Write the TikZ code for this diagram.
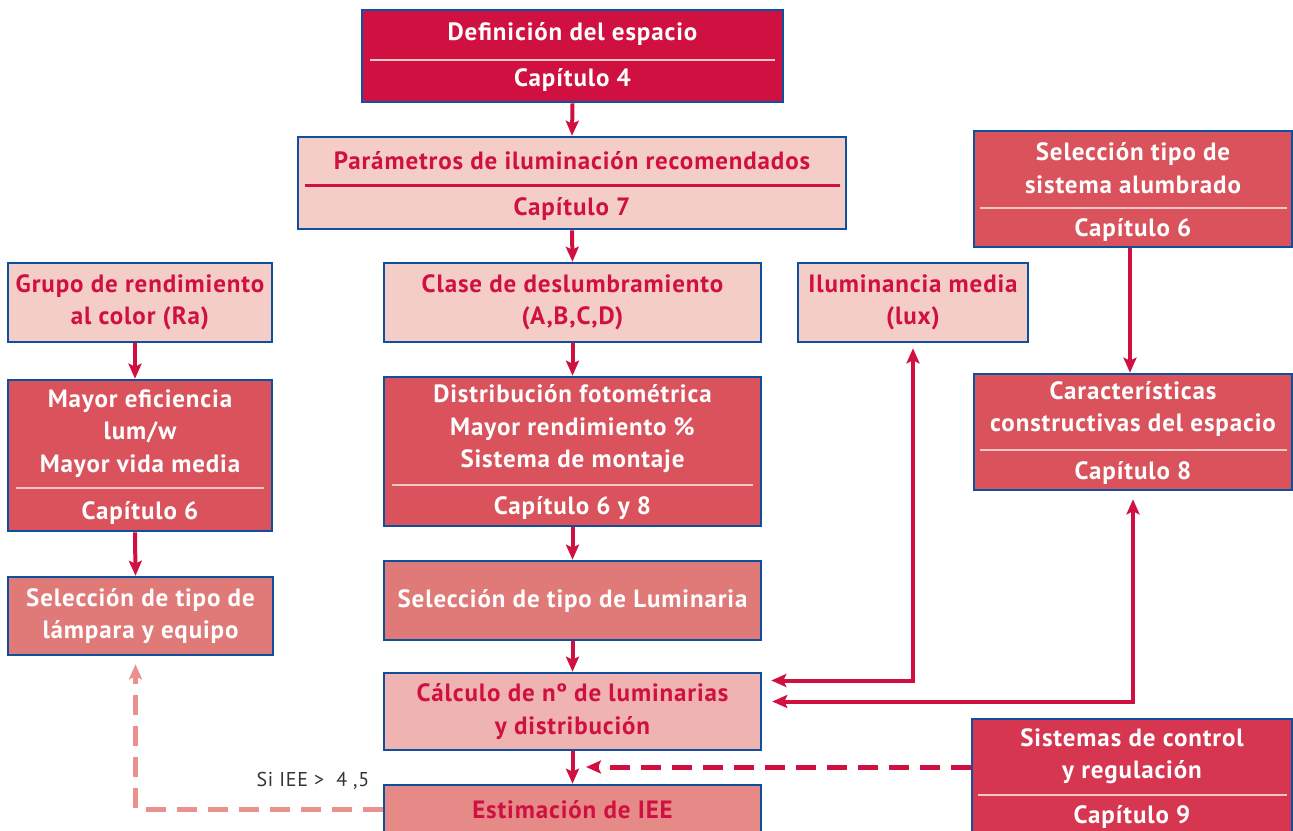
\documentclass[tikz,border=0pt]{standalone}
\usepackage{fontspec}
\setmainfont{PT Sans}[LetterSpace=3.5]
\usetikzlibrary{arrows.meta,positioning}
\definecolor{ieblue}{RGB}{14,80,158}
\definecolor{iecrimson}{RGB}{208,16,64}
\definecolor{iepink}{RGB}{245,205,199}
\definecolor{iered}{RGB}{217,82,92}
\definecolor{iesalmon}{RGB}{224,122,120}
\definecolor{iecalc}{RGB}{239,180,177}
\definecolor{ieestim}{RGB}{230,138,135}
\definecolor{iectrl}{RGB}{214,54,79}
\definecolor{iedash}{RGB}{232,145,141}
\definecolor{iesep}{RGB}{246,200,196}

\begin{document}
\begin{tikzpicture}[x=1pt,y=-1pt,
    ietip/.tip={Stealth[length=15pt,width=13pt,inset=3pt]},
    box/.style={draw=ieblue, line width=2.6pt, inner sep=0pt, align=center,
                font=\fontsize{25}{32.5}\selectfont\bfseries},
    lightbox/.style={box, fill=iepink, text=iecrimson},
    txt/.style={inner sep=0pt, align=center,
                font=\fontsize{25}{32.5}\selectfont\bfseries},
    wtxt/.style={txt, text=white},
    rtxt/.style={txt, text=iecrimson},
    wsep/.style={draw=iesep, line width=2pt},
    link/.style={draw=iecrimson, line width=4pt},
    flow/.style={link, -ietip},
    ctrl/.style={link, line width=5pt, dash pattern=on 20pt off 11pt, -ietip},
    back/.style={draw=iedash, line width=5pt, dash pattern=on 20pt off 11pt, -ietip}
  ]
    \useasboundingbox (0,0) rectangle (1293,830);

    % centre column
    \node[box, fill=iecrimson, minimum width=421, minimum height=92] (defin) at (572.5,56) {};
    \node[wtxt] (defin-t) at (572.5,34) {Definición del espacio};
    \draw[wsep] (370,60) -- (775,60);
    \node[wtxt] (defin-c) at (572.5,80) {Capítulo 4};

    \node[box, fill=iepink, minimum width=548, minimum height=92] (param) at (572,183) {};
    \node[rtxt] (param-t) at (572,161) {Parámetros de iluminación recomendados};
    \draw[draw=iecrimson, line width=3pt] (305,185) -- (840,185);
    \node[rtxt] (param-c) at (572,209) {Capítulo 7};

    \node[lightbox, minimum width=377, minimum height=79] (clase) at (572.5,302.5)
      {Clase de deslumbramiento\\(A,B,C,D)};

    \node[box, fill=iered, minimum width=377, minimum height=149] (distrib) at (572.5,451.5) {};
    \node[wtxt] (distrib-t) at (572.5,429)
      {Distribución fotométrica\\Mayor rendimiento \%\\Sistema de montaje};
    \draw[wsep] (392,485) -- (753,485);
    \node[wtxt] (distrib-c) at (572.5,508) {Capítulo 6 y 8};

    \node[box, fill=iesalmon, text=white, minimum width=377, minimum height=79] (selLum) at (572.5,600.5)
      {Selección de tipo de Luminaria};

    \node[box, fill=iecalc, text=iecrimson, minimum width=377, minimum height=77] (calculo) at (572.5,711.5)
      {Cálculo de nº de luminarias\\y distribución};

    \node[box, fill=ieestim, minimum width=377, minimum height=65] (estim) at (572.5,817.5) {};
    \node[rtxt] (estim-t) at (572.5,810) {Estimación de IEE};

    % left column
    \node[lightbox, minimum width=264, minimum height=79] (grupo) at (140,302.5)
      {Grupo de rendimiento\\al color (Ra)};

    \node[box, fill=iered, minimum width=264, minimum height=151] (mayor) at (140,455.5) {};
    \node[wtxt] (mayor-t) at (140,433.5) {Mayor eficiencia\\lum/w\\Mayor vida media};
    \draw[wsep] (16,488) -- (264,488);
    \node[wtxt] (mayor-c) at (140,513) {Capítulo 6};

    \node[box, fill=iesalmon, text=white, minimum width=265, minimum height=78] (lampara) at (140.5,616)
      {Selección de tipo de\\lámpara y equipo};

    % right column
    \node[lightbox, minimum width=230, minimum height=79] (ilum) at (913,302.5)
      {Iluminancia media\\(lux)};

    \node[box, fill=iered, minimum width=318, minimum height=116] (seltipo) at (1133,189) {};
    \node[wtxt] (seltipo-t) at (1133,168) {Selección tipo de\\sistema alumbrado};
    \draw[wsep] (980,208) -- (1287,208);
    \node[wtxt] (seltipo-c) at (1133,230) {Capítulo 6};

    \node[box, fill=iered, minimum width=318, minimum height=116] (caract) at (1133,432) {};
    \node[wtxt] (caract-t) at (1133,409) {Características\\constructivas del espacio};
    \draw[wsep] (980,450) -- (1287,450);
    \node[wtxt] (caract-c) at (1133,473) {Capítulo 8};

    \node[box, fill=iectrl, minimum width=320, minimum height=131] (sistemas) at (1132,784.5) {};
    \node[wtxt] (sistemas-t) at (1132,756) {Sistemas de control\\y regulación};
    \draw[wsep] (978,795) -- (1287,795);
    \node[wtxt] (sistemas-c) at (1132,817) {Capítulo 9};

    \node[inner sep=0pt, text=black!80, font=\fontsize{20}{24}\selectfont] (cond) at (313,781)
      {Si IEE >~~4 ,5};

    % connectors
    \draw[flow] (defin.south) -- (param.north);
    \draw[flow] (param.south) -- (clase.north);
    \draw[flow] (clase.south) -- (distrib.north);
    \draw[flow] (distrib.south) -- (selLum.north);
    \draw[flow] (selLum.south) -- (calculo.north);
    \draw[flow] (calculo.south) -- (estim.north);
    \draw[flow] ([xshift=-5pt]grupo.south) -- ([xshift=-5pt]mayor.north);
    \draw[flow] ([xshift=-5pt]mayor.south) -- ([xshift=-5pt]lampara.north);
    \draw[flow] ([xshift=-3pt]seltipo.south) -- ([xshift=-3pt]caract.north);

    \draw[link, ietip-ietip, shorten <=5pt, shorten >=9pt]
      (ilum.south) |- ([yshift=31pt]calculo.east);
    \draw[link, ietip-ietip, shorten <=8pt, shorten >=10pt]
      (caract.south) |- ([yshift=10pt]calculo.east);

    \coordinate (ctrl-end) at (586,767);
    \draw[ctrl] ([yshift=17.5pt]sistemas.west) -- (ctrl-end);
    \draw[back, shorten >=8pt] ([yshift=8.5pt]estim.west) -| ([xshift=-5pt]lampara.south);
\end{tikzpicture}
\end{document}
